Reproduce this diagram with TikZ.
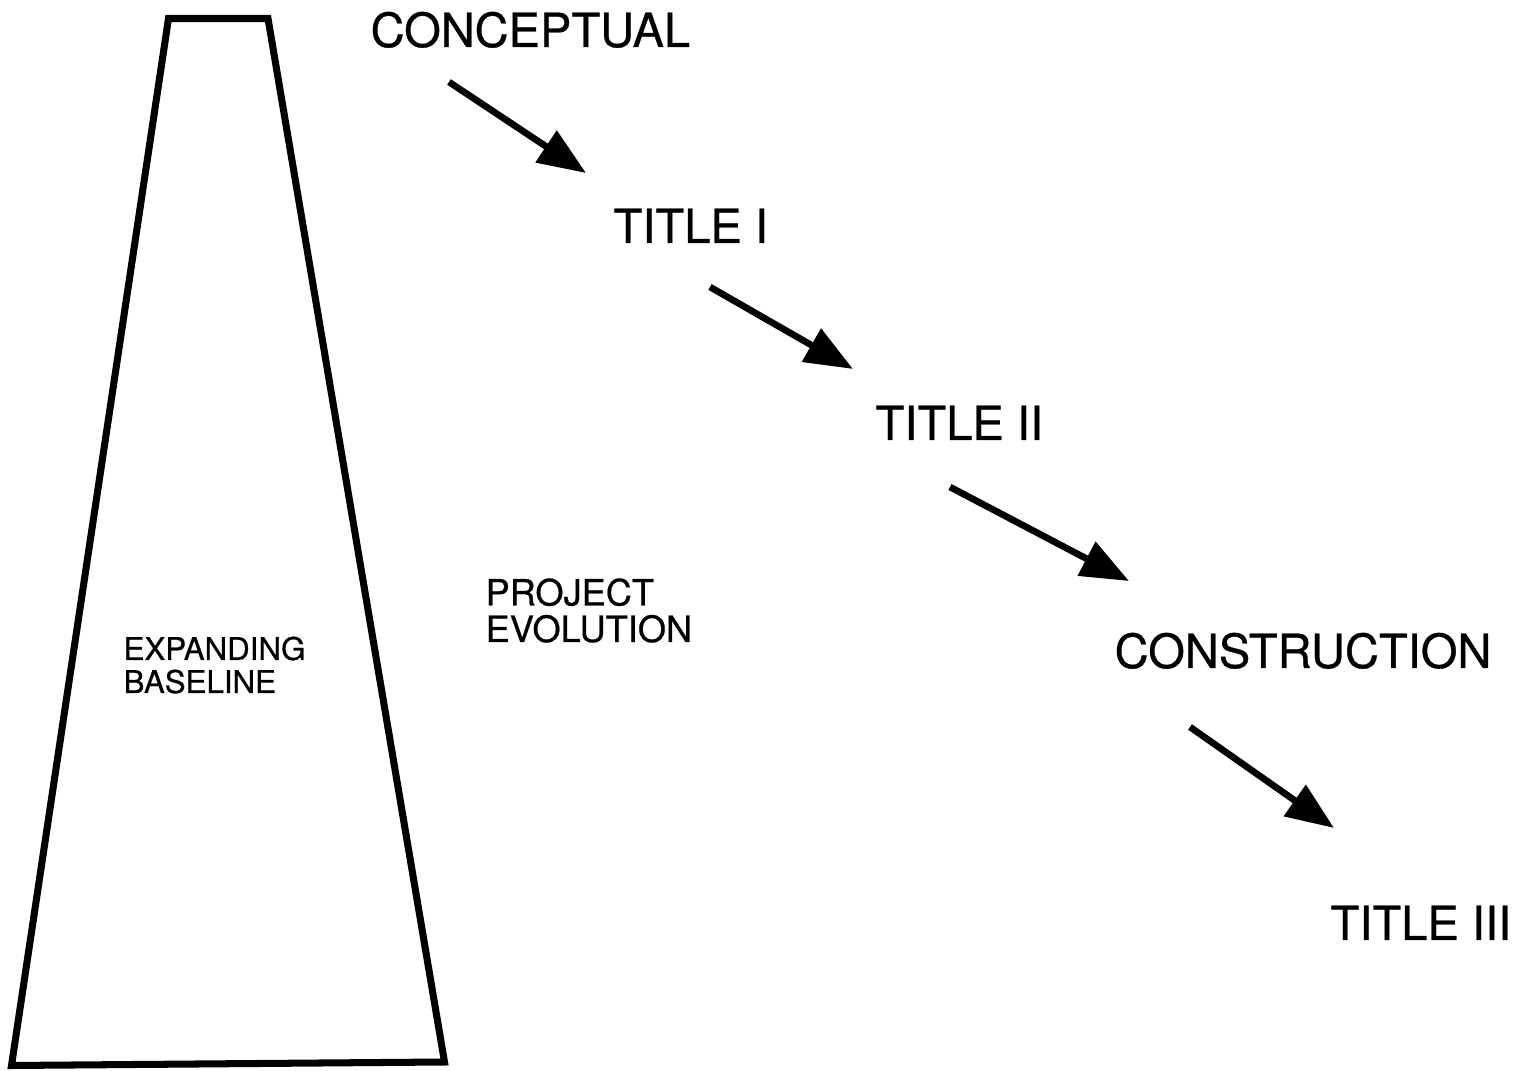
\documentclass[tikz,border=0pt]{standalone}
\usepackage{fontspec}
\setmainfont{TeX Gyre Heros}[UprightFeatures={FakeBold=0.6}]
\usetikzlibrary{arrows.meta, positioning, calc}
\tikzset{
  every picture/.style={line width=1.5pt},
  phase/.style={font=\fontsize{13.4}{15}\selectfont, anchor=base west, inner sep=0pt},
  small/.style={font=\fontsize{10.3}{12}\selectfont, anchor=base west, inner sep=0pt, align=left},
  tiny/.style={font=\fontsize{8.9}{11}\selectfont, anchor=base west, inner sep=0pt, align=left},
  arrow/.style={-{Triangle[length=4.8mm, width=3.7mm]}, line width=1.9pt},
  base/.style={line width=2pt, line join=miter},
}
\begin{document}
\begin{tikzpicture}
  \useasboundingbox (0,0) rectangle (15.21,10.71);

  % baseline trapezoid
  \draw[base] (1.685,10.525) -- (2.68,10.525) -- (4.445,0.09) -- (0.115,0.055) -- cycle;
  \node[tiny] (bl) at (1.21,3.78) {EXPANDING\\[-1.6pt]BASELINE};
  \node[small] (pe) at (4.83,4.29) {PROJECT\\[-1.6pt]EVOLUTION};

  % phases
  \node[phase] (con) at (3.68,10.24) {CONCEPTUAL};
  \node[phase] (t1)  at (6.11,8.28)  {TITLE I};
  \node[phase] (t2)  at (8.73,6.31)  {TITLE II};
  \node[phase] (cst) at (11.12,4.03) {CONSTRUCTION};
  \node[phase] (t3)  at (13.28,1.31) {TITLE III};

  % arrow ends
  \coordinate (a1s) at (4.49,9.89);  \coordinate (a1e) at (5.86,8.98);
  \coordinate (a2s) at (7.10,7.84);  \coordinate (a2e) at (8.53,7.02);
  \coordinate (a3s) at (9.50,5.84);  \coordinate (a3e) at (11.29,4.90);
  \coordinate (a4s) at (11.90,3.44); \coordinate (a4e) at (13.34,2.43);
  \foreach \s/\e in {a1s/a1e, a2s/a2e, a3s/a3e, a4s/a4e}
    \draw[arrow] (\s) -- (\e);
\end{tikzpicture}
\end{document}
